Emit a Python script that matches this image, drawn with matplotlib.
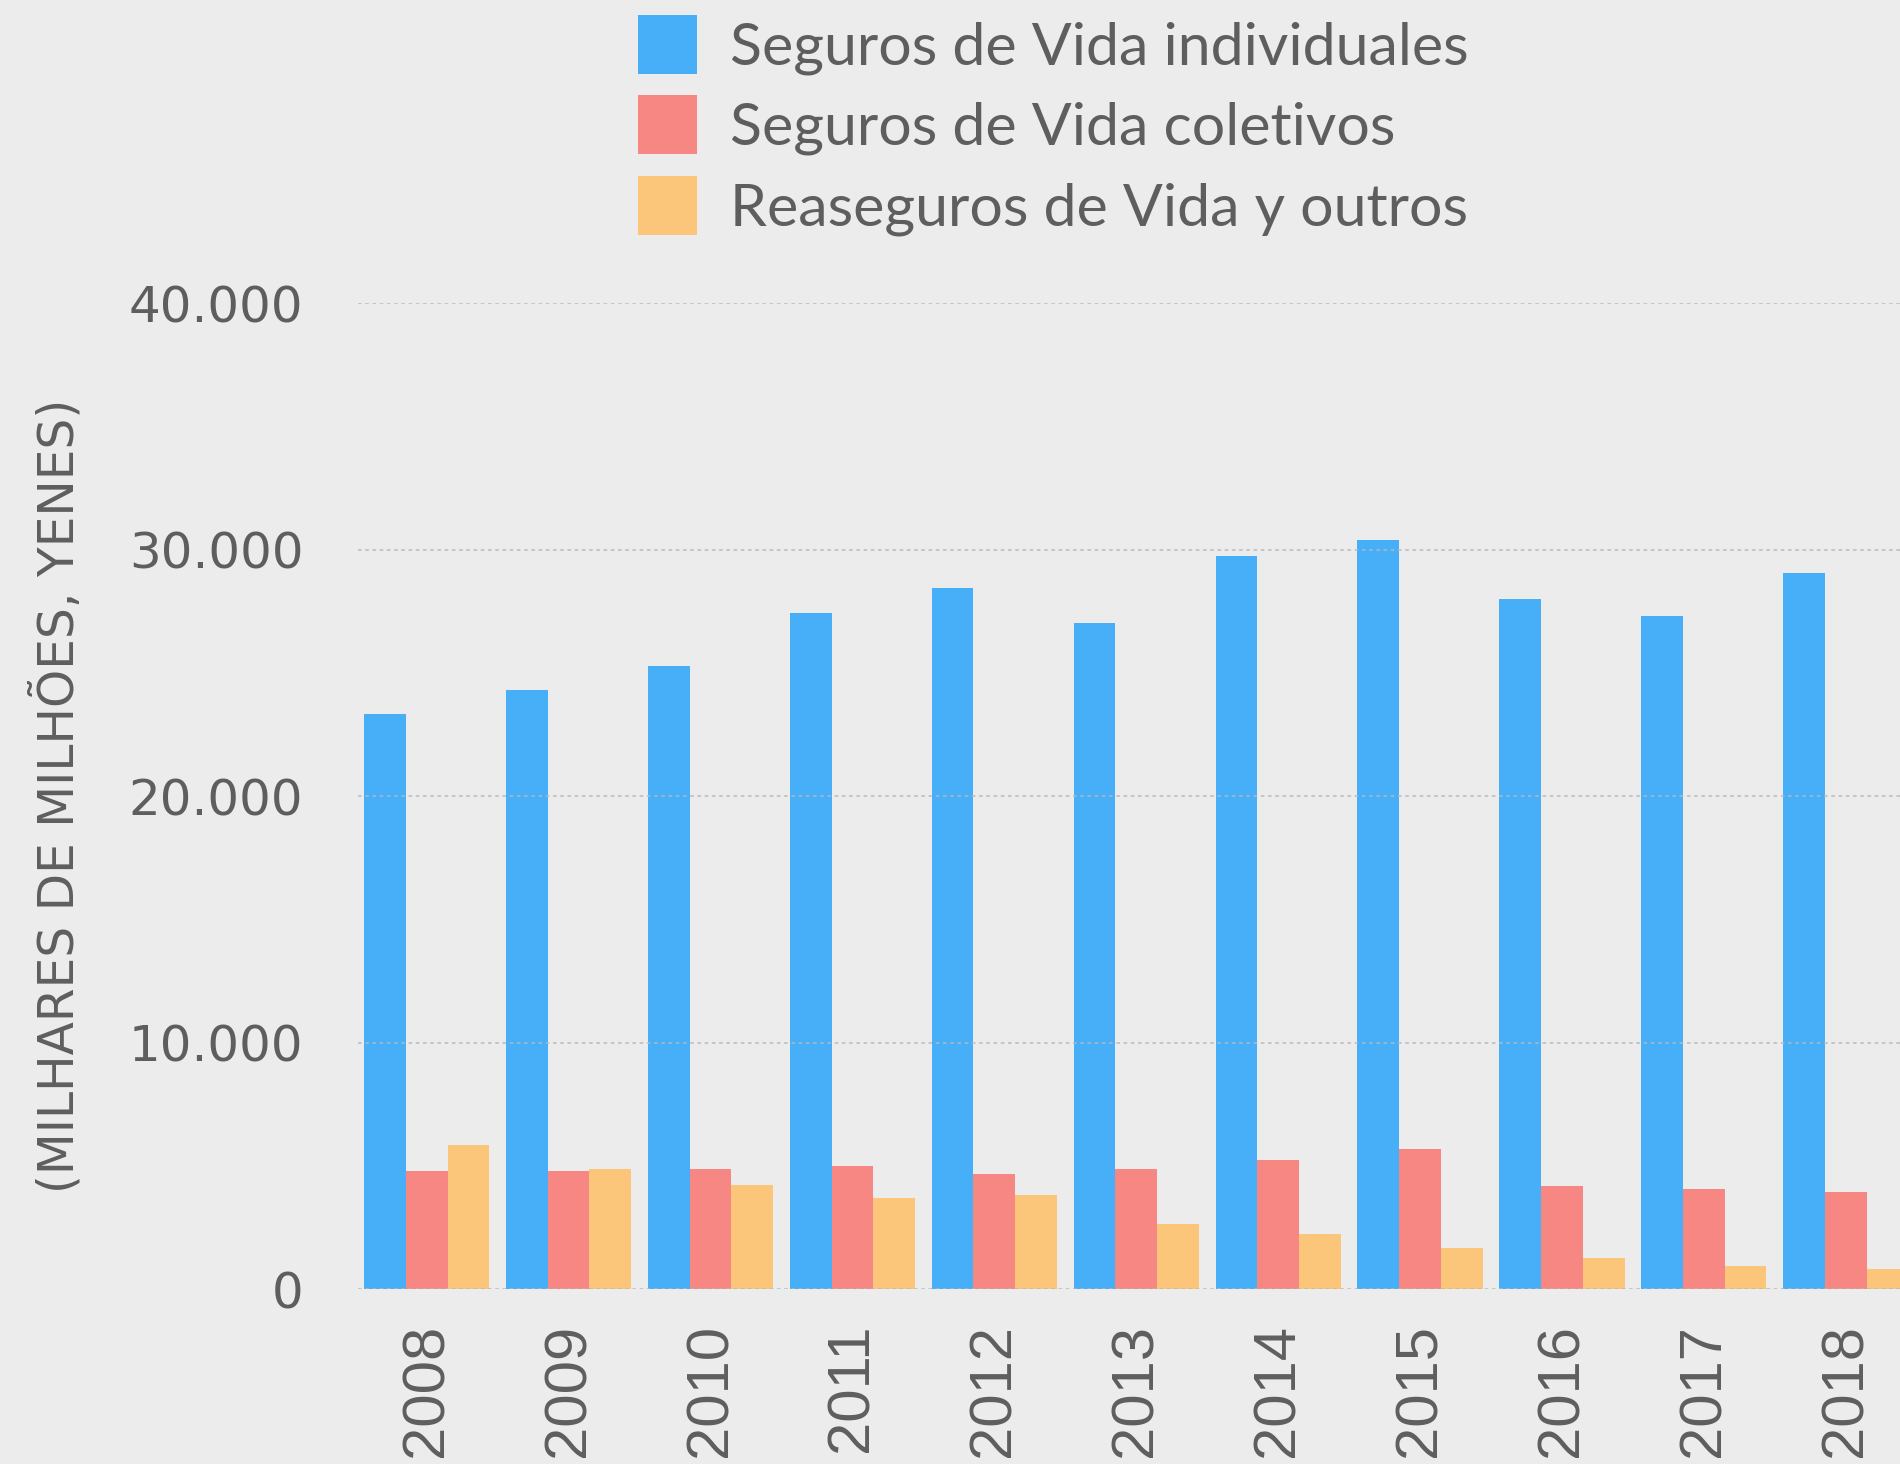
import matplotlib.pyplot as plt
from matplotlib.ticker import FuncFormatter
from matplotlib.patches import Patch
import numpy as np

years = ['2008', '2009', '2010', '2011', '2012', '2013', '2014', '2015', '2016', '2017', '2018']
individuales = [23340, 24320, 25290, 27440, 28420, 27000, 29720, 30380, 27980, 27320, 29060]
coletivos = [4790, 4790, 4870, 5000, 4670, 4880, 5230, 5670, 4180, 4050, 3940]
reaseguros = [5850, 4870, 4220, 3700, 3820, 2630, 2220, 1650, 1255, 920, 815]

series_labels = ['Seguros de Vida individuales', 'Seguros de Vida coletivos', 'Reaseguros de Vida y outros']
colors = ['#47aef8', '#f78782', '#fbc67a']
bg = '#ececec'
text_color = '#5e5e5e'

fig = plt.figure(figsize=(19, 14.64), dpi=100, facecolor=bg)
# axes run past the right edge of the figure, so the last group is cut off
ax = fig.add_axes([0.1882, 0.1195, 0.8206, 0.6735], facecolor=bg)

x = np.arange(len(years))
w = 0.294
for i, (vals, c) in enumerate(zip([individuales, coletivos, reaseguros], colors)):
    ax.bar(x + (i - 1) * w, vals, w, color=c, linewidth=0, zorder=2)

ax.set_xlim(-0.487, 10.5)
ax.set_ylim(0, 40000)
ax.set_yticks([0, 10000, 20000, 30000, 40000])
ax.yaxis.set_major_formatter(FuncFormatter(lambda v, p: f'{int(v):,}'.replace(',', '.')))
ax.set_xticks(x)
ax.set_xticklabels(years, rotation=90, fontfamily='Liberation Sans', fontsize=43, color=text_color)
for lbl in ax.get_yticklabels():
    lbl.set_fontfamily('DejaVu Sans')
    lbl.set_fontsize(36)
    lbl.set_color(text_color)

ax.tick_params(axis='both', length=0)
ax.tick_params(axis='y', pad=39)
ax.tick_params(axis='x', pad=25)
ax.grid(axis='y', color='#b8b8b8', linestyle=(0, (2, 2)), linewidth=1.3, alpha=0.8, zorder=3)
ax.set_axisbelow(False)
for s in ax.spines.values():
    s.set_visible(False)

fig.text(0.030, 0.4563, '(MILHARES DE MILHÕES, YENES)', rotation=90, ha='center', va='center',
         fontsize=35, color=text_color, fontfamily='DejaVu Sans')

handles = [Patch(facecolor=c, edgecolor='none') for c in colors]
fig.legend(handles, series_labels, loc='upper left', bbox_to_anchor=(0.336, 0.99), frameon=False,
           prop={'family': 'Lato', 'size': 42.5}, labelcolor=text_color,
           handlelength=1.0, handleheight=1.16, handletextpad=0.55, labelspacing=0.35, borderpad=0,
           borderaxespad=0)

fig.savefig('out.png', dpi=100, facecolor=bg)
